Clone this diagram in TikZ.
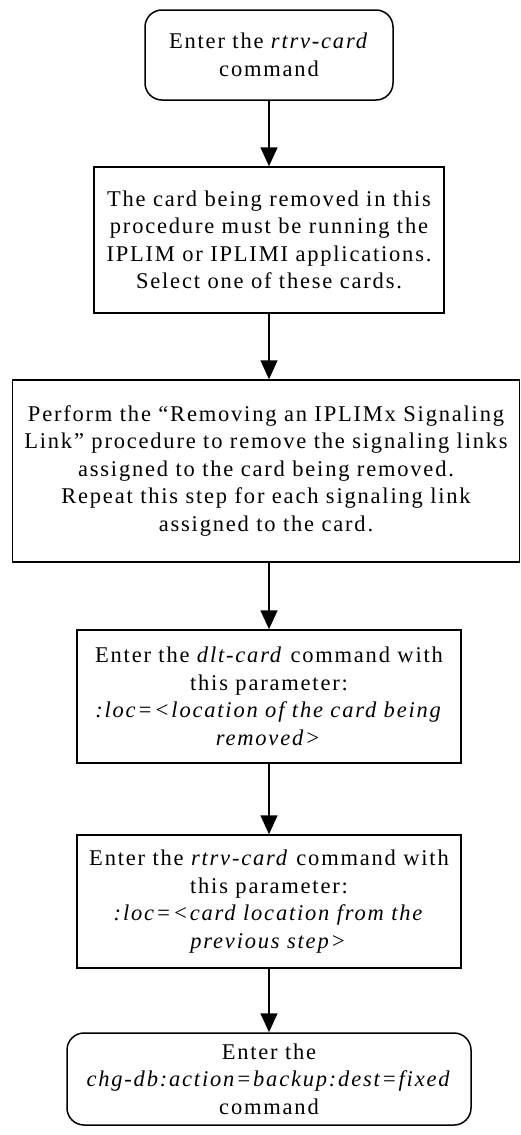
\documentclass[tikz,border=0pt]{standalone}
\usepackage{fontspec}
\setmainfont{Liberation Serif}[LetterSpace=8]
\usetikzlibrary{arrows.meta}
\begin{document}
\begin{tikzpicture}[x=1pt,y=-1pt,
  base/.style={draw=black,line width=1.5pt,align=center,inner sep=0pt,
    font=\fontsize{22.5}{27.5}\selectfont},
  stepbox/.style={base},
  termbox/.style={base,rounded corners=17pt},
  arr/.style={line width=1.5pt,-{Triangle[width=17pt,length=19pt]}}]
\useasboundingbox (0,0) rectangle (520,1135);
\node[termbox,minimum width=248pt,minimum height=90pt] (b1) at (269,55)
  {Enter the \textit{rtrv-card}\\command};
\node[stepbox,minimum width=350pt,minimum height=146pt] (b2) at (269,240)
  {The card being removed in this\\procedure must be running the\\IPLIM or IPLIMI applications.\\Select one of these cards.};
\node[stepbox,minimum width=507pt,minimum height=182pt] (b3) at (266,471)
  {Perform the ``Removing an IPLIMx Signaling\\Link'' procedure to remove the signaling links\\assigned to the card being removed.\\Repeat this step for each signaling link\\assigned to the card.};
\node[stepbox,minimum width=384pt,minimum height=133pt] (b4) at (269,696.5)
  {Enter the \textit{dlt-card} command with\\this parameter:\\\textit{:loc=<location of the card being}\\\textit{removed>}};
\node[stepbox,minimum width=384pt,minimum height=133pt] (b5) at (269,901.5)
  {Enter the \textit{rtrv-card} command with\\this parameter:\\\textit{:loc=<card location from the}\\\textit{previous step>}};
\node[termbox,minimum width=404pt,minimum height=92pt] (b6) at (269,1079)
  {Enter the\\\textit{chg-db:action=backup:dest=fixed}\\command};
\draw[arr] (b1) -- (b2);
\draw[arr] (b2.south) -- (b2.south |- b3.north);
\draw[arr] (b4.north |- b3.south) -- (b4.north);
\draw[arr] (b4) -- (b5);
\draw[arr] (b5) -- (b6);
\end{tikzpicture}
\end{document}
